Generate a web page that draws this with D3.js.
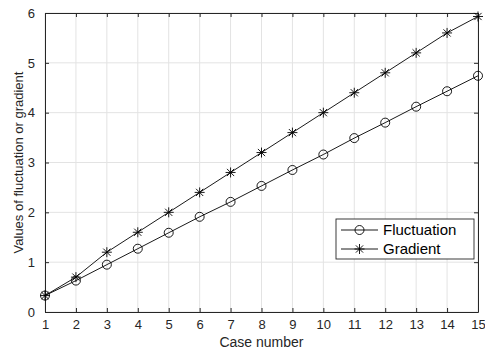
<!DOCTYPE html>
<html>
<head>
<meta charset="utf-8">
<script src="https://cdn.jsdelivr.net/npm/d3@7"></script>
<style>
  body { margin: 0; background: #fff; }
  svg { font-family: "Liberation Sans", Arial, sans-serif; }
</style>
</head>
<body>
<div id="chart"></div>
<script>
  // Data

  const caseNumbers = [1, 2, 3, 4, 5, 6, 7, 8, 9, 10, 11, 12, 13, 14, 15];
  const fluctuation = [0.33, 0.63, 0.95, 1.27, 1.59, 1.91, 2.21, 2.53, 2.85, 3.16, 3.49, 3.80, 4.12, 4.43, 4.74];
  const gradient = [0.33, 0.70, 1.20, 1.60, 2.00, 2.40, 2.80, 3.20, 3.60, 4.00, 4.40, 4.80, 5.20, 5.60, 5.93];
  const yTicks = [0, 1, 2, 3, 4, 5, 6];

  // Config

  const width = 485;
  const height = 352;
  const margin = { top: 13, right: 7, bottom: 40, left: 45 };
  const axisColor = "#262626";
  const gridColor = "#e3e3e3";
  const tickLen = 4;

  const svg = d3.select("#chart")
    .append("svg")
    .attr("width", width)
    .attr("height", height);

  const xScale = d3.scaleLinear()
    .domain([1, 15])
    .range([margin.left, width - margin.right]);

  const yScale = d3.scaleLinear()
    .domain([0, 6])
    .range([height - margin.bottom, margin.top]);

  // Grid

  const grid = svg.append("g").attr("class", "grid");
  grid.selectAll("line.vgrid")
    .data(caseNumbers)
    .join("line")
    .attr("x1", d => xScale(d)).attr("x2", d => xScale(d))
    .attr("y1", yScale(0)).attr("y2", yScale(6))
    .attr("stroke", gridColor);
  grid.selectAll("line.hgrid")
    .data(yTicks)
    .join("line")
    .attr("x1", xScale(1)).attr("x2", xScale(15))
    .attr("y1", d => yScale(d)).attr("y2", d => yScale(d))
    .attr("stroke", gridColor);

  // Axes (MATLAB style, ticks inward, boxed)

  const fmt = d3.format("d");
  const xAxis = d3.axisBottom(xScale).tickValues(caseNumbers).tickFormat(fmt).tickSizeInner(-tickLen).tickSizeOuter(0).tickPadding(8);
  const yAxis = d3.axisLeft(yScale).tickValues(yTicks).tickFormat(fmt).tickSizeInner(-tickLen).tickSizeOuter(0).tickPadding(10);
  const xTop = d3.axisTop(xScale).tickValues(caseNumbers).tickSizeInner(-tickLen).tickSizeOuter(0).tickFormat("");
  const yRight = d3.axisRight(yScale).tickValues(yTicks).tickSizeInner(-tickLen).tickSizeOuter(0).tickFormat("");

  function styleAxis(g) {
    g.select(".domain").attr("stroke", axisColor);
    g.selectAll(".tick line").attr("stroke", axisColor);
    g.selectAll(".tick text").attr("fill", axisColor).attr("font-size", 13)
      .attr("font-family", "Liberation Sans, Arial, sans-serif");
  }

  svg.append("g")
    .attr("transform", `translate(0, ${height - margin.bottom})`)
    .call(xAxis).call(styleAxis);
  svg.append("g")
    .attr("transform", `translate(${margin.left}, 0)`)
    .call(yAxis).call(styleAxis);
  svg.append("g")
    .attr("transform", `translate(0, ${margin.top})`)
    .call(xTop).call(styleAxis);
  svg.append("g")
    .attr("transform", `translate(${width - margin.right}, 0)`)
    .call(yRight).call(styleAxis);

  // Axis titles

  svg.append("text")
    .attr("x", (xScale(1) + xScale(15)) / 2)
    .attr("y", height - 5)
    .attr("text-anchor", "middle")
    .attr("font-size", 14)
    .attr("fill", axisColor)
    .text("Case number");

  svg.append("text")
    .attr("transform", `translate(23, ${(yScale(0) + yScale(6)) / 2}) rotate(-90)`)
    .attr("text-anchor", "middle")
    .attr("font-size", 13)
    .attr("fill", axisColor)
    .text("Values of fluctuation or gradient");

  // Lines and markers

  const line = d3.line()
    .x((d, i) => xScale(caseNumbers[i]))
    .y(d => yScale(d));

  const plot = svg.append("g");

  function drawCircle(g, x, y) {
    g.append("circle")
      .attr("cx", x).attr("cy", y).attr("r", 4.5)
      .attr("fill", "none").attr("stroke", "#000").attr("stroke-width", 0.9);
  }

  function drawStar(g, x, y) {
    const r = 5;
    const d = r * 0.72;
    const path = `M${x - r},${y}L${x + r},${y}M${x},${y - r}L${x},${y + r}` +
      `M${x - d},${y - d}L${x + d},${y + d}M${x - d},${y + d}L${x + d},${y - d}`;
    g.append("path").attr("d", path).attr("stroke", "#000").attr("stroke-width", 0.9).attr("fill", "none");
  }

  plot.append("path")
    .datum(fluctuation)
    .attr("d", line)
    .attr("fill", "none").attr("stroke", "#000").attr("stroke-width", 0.9);
  plot.append("path")
    .datum(gradient)
    .attr("d", line)
    .attr("fill", "none").attr("stroke", "#000").attr("stroke-width", 0.9);

  fluctuation.forEach((v, i) => drawCircle(plot, xScale(caseNumbers[i]), yScale(v)));
  gradient.forEach((v, i) => drawStar(plot, xScale(caseNumbers[i]), yScale(v)));

  // Legend

  const legend = svg.append("g").attr("transform", "translate(336, 219)");
  legend.append("rect")
    .attr("width", 138).attr("height", 40)
    .attr("fill", "#fff").attr("stroke", axisColor).attr("stroke-width", 0.9);

  const legendItems = [
    { name: "Fluctuation", marker: drawCircle },
    { name: "Gradient", marker: drawStar }
  ];

  legendItems.forEach((item, i) => {
    const cy = 11 + i * 19;
    legend.append("line")
      .attr("x1", 5).attr("x2", 42).attr("y1", cy).attr("y2", cy)
      .attr("stroke", "#000").attr("stroke-width", 0.9);
    item.marker(legend, 23.5, cy);
    legend.append("text")
      .attr("x", 47).attr("y", cy + 5)
      .attr("font-size", 15)
      .attr("fill", "#000")
      .text(item.name);
  });
</script>
</body>
</html>
